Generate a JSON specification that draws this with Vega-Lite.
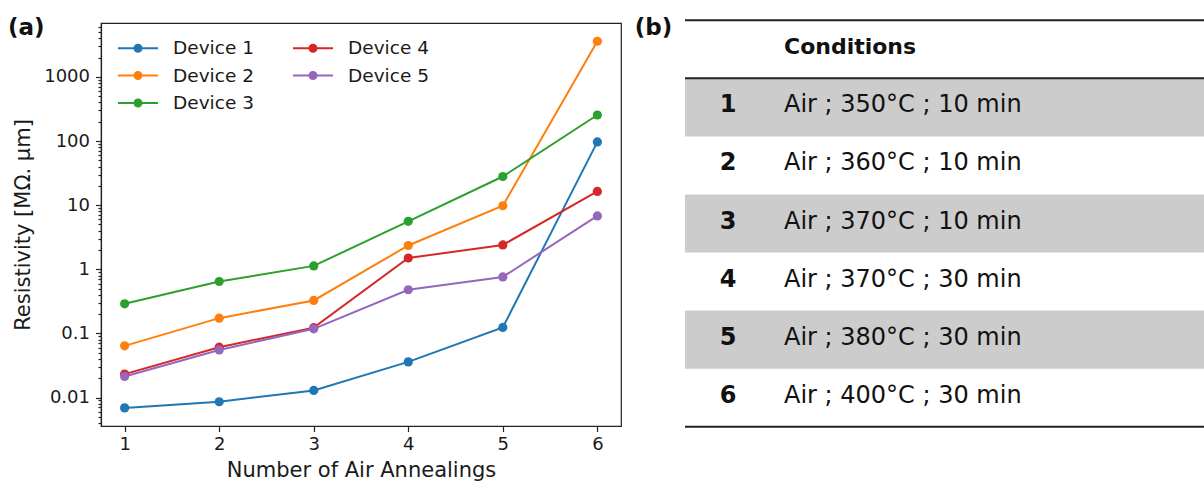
{
  "$schema": "https://vega.github.io/schema/vega-lite/v6.json",
  "background": "white",
  "padding": {"left": 7, "top": 16, "right": 0, "bottom": 0},
  "bounds": "flush",
  "spacing": 64,
  "config": {
    "font": "DejaVu Sans",
    "axis": {"labelFont": "DejaVu Sans", "titleFont": "DejaVu Sans", "labelColor": "#1a1a1a", "titleColor": "#1a1a1a", "domainColor": "#222", "tickColor": "#222", "domainWidth": 1.2, "tickWidth": 1.2, "titleFontWeight": "normal", "grid": false}
  },
  "hconcat": [
    {
      "width": 520,
      "height": 403,
      "view": {"stroke": "#222", "strokeWidth": 1.2},
      "data": {"values": [
        {"n": 1, "device": "Device 1", "r": 0.0069},
        {"n": 2, "device": "Device 1", "r": 0.0086},
        {"n": 3, "device": "Device 1", "r": 0.0129},
        {"n": 4, "device": "Device 1", "r": 0.036},
        {"n": 5, "device": "Device 1", "r": 0.124},
        {"n": 6, "device": "Device 1", "r": 97},
        {"n": 1, "device": "Device 2", "r": 0.064},
        {"n": 2, "device": "Device 2", "r": 0.173},
        {"n": 3, "device": "Device 2", "r": 0.327},
        {"n": 4, "device": "Device 2", "r": 2.35},
        {"n": 5, "device": "Device 2", "r": 9.8},
        {"n": 6, "device": "Device 2", "r": 3600},
        {"n": 1, "device": "Device 3", "r": 0.29},
        {"n": 2, "device": "Device 3", "r": 0.645},
        {"n": 3, "device": "Device 3", "r": 1.13},
        {"n": 4, "device": "Device 3", "r": 5.6},
        {"n": 5, "device": "Device 3", "r": 28},
        {"n": 6, "device": "Device 3", "r": 255},
        {"n": 1, "device": "Device 4", "r": 0.0232},
        {"n": 2, "device": "Device 4", "r": 0.061},
        {"n": 3, "device": "Device 4", "r": 0.123},
        {"n": 4, "device": "Device 4", "r": 1.5},
        {"n": 5, "device": "Device 4", "r": 2.4},
        {"n": 6, "device": "Device 4", "r": 16.4},
        {"n": 1, "device": "Device 5", "r": 0.0213},
        {"n": 2, "device": "Device 5", "r": 0.0553},
        {"n": 3, "device": "Device 5", "r": 0.118},
        {"n": 4, "device": "Device 5", "r": 0.48},
        {"n": 5, "device": "Device 5", "r": 0.76},
        {"n": 6, "device": "Device 5", "r": 6.8}
      ]},
      "layer": [
        {
          "mark": {"type": "line", "strokeWidth": 2, "point": {"filled": true, "size": 85, "opacity": 1}},
          "encoding": {
            "x": {"field": "n", "type": "quantitative",
              "scale": {"domain": [0.75, 6.25], "nice": false, "zero": false},
              "axis": {"values": [1, 2, 3, 4, 5, 6], "format": "d", "title": "Number of Air Annealings", "tickSize": 5.5, "labelPadding": 4, "titlePadding": 6, "labelFontSize": 18, "titleFontSize": 21}},
            "y": {"field": "r", "type": "quantitative",
              "scale": {"type": "log", "domain": [0.0036, 6935], "nice": false},
              "axis": {
                "values": [0.004, 0.005, 0.006, 0.007, 0.008, 0.009, 0.01, 0.02, 0.03, 0.04, 0.05, 0.06, 0.07, 0.08, 0.09, 0.1, 0.2, 0.3, 0.4, 0.5, 0.6, 0.7, 0.8, 0.9, 1, 2, 3, 4, 5, 6, 7, 8, 9, 10, 20, 30, 40, 50, 60, 70, 80, 90, 100, 200, 300, 400, 500, 600, 700, 800, 900, 1000, 2000, 3000, 4000, 5000, 6000],
                "format": "~g",
                "labelExpr": "abs(log(datum.value)/LN10 - round(log(datum.value)/LN10)) < 0.001 ? datum.label : ''",
                "tickSize": {"condition": {"test": "abs(log(datum.value)/LN10 - round(log(datum.value)/LN10)) < 0.001", "value": 5.5}, "value": 3},
                "labelOverlap": false,
                "labelFontSize": 18,
                "labelPadding": 6,
                "title": "Resistivity [MΩ. µm]",
                "titleFontSize": 21,
                "titlePadding": 10
              }},
            "color": {"field": "device", "type": "nominal",
              "scale": {"domain": ["Device 1", "Device 2", "Device 3", "Device 4", "Device 5"], "range": ["#1f77b4", "#ff7f0e", "#2ca02c", "#d62728", "#9467bd"]},
              "legend": {
                "orient": "none", "legendX": 27, "legendY": 15, "columns": 2, "columnPadding": 39, "rowPadding": 7.5,
                "title": null,
                "symbolType": "M-2,-0.1H2V0.1H-2Z M0.45,0A0.45,0.45,0,1,1,-0.45,0A0.45,0.45,0,1,1,0.45,0Z",
                "symbolSize": 400, "symbolStrokeWidth": 0,
                "labelFontSize": 18.5, "labelFont": "DejaVu Sans", "labelColor": "#1a1a1a", "labelOffset": 25,
                "encode": {"symbols": {"update": {"fill": {"scale": "color", "field": "value"}, "opacity": {"value": 1}}}}
              }}
          }
        },
        {
          "data": {"values": [{"label": "(a)"}]},
          "mark": {"type": "text", "fontWeight": "bold", "fontSize": 23, "align": "center", "baseline": "middle", "color": "#111", "clip": false},
          "encoding": {"text": {"field": "label"}, "x": {"datum": -0.04}, "y": {"datum": 5800}}
        }
      ]
    },
    {
      "width": 521,
      "height": 406,
      "view": {"stroke": null},
      "data": {"values": [
        {"n": 1, "cond": "Air ; 350°C ; 10 min"},
        {"n": 2, "cond": "Air ; 360°C ; 10 min"},
        {"n": 3, "cond": "Air ; 370°C ; 10 min"},
        {"n": 4, "cond": "Air ; 370°C ; 30 min"},
        {"n": 5, "cond": "Air ; 380°C ; 30 min"},
        {"n": 6, "cond": "Air ; 400°C ; 30 min"}
      ]},
      "layer": [
        {
          "transform": [{"filter": "datum.n % 2 == 1"}],
          "mark": {"type": "rule", "color": "#cccccc", "strokeWidth": 58.06},
          "encoding": {"y": {"field": "n", "type": "quantitative", "scale": {"domain": [-0.4535, 6.539], "reverse": true, "nice": false, "zero": false}, "axis": null}}
        },
        {
          "data": {"values": [{"k": "top"}]},
          "mark": {"type": "rule", "color": "#222", "strokeWidth": 2},
          "encoding": {"y": {"datum": -0.5}}
        },
        {
          "data": {"values": [{"k": "mid"}]},
          "mark": {"type": "rule", "color": "#222", "strokeWidth": 2},
          "encoding": {"y": {"datum": 0.5}}
        },
        {
          "data": {"values": [{"k": "bottom"}]},
          "mark": {"type": "rule", "color": "#222", "strokeWidth": 2},
          "encoding": {"y": {"datum": 6.5}}
        },
        {
          "mark": {"type": "text", "fontWeight": "bold", "fontSize": 24, "align": "center", "baseline": "middle", "color": "#111", "dy": -2},
          "encoding": {
            "text": {"field": "n", "type": "nominal"},
            "x": {"datum": 0.0825, "type": "quantitative", "scale": {"domain": [0, 1], "nice": false, "zero": false}, "axis": null},
            "y": {"field": "n", "type": "quantitative"}
          }
        },
        {
          "mark": {"type": "text", "fontSize": 24, "align": "left", "baseline": "middle", "color": "#111", "dy": -2},
          "encoding": {
            "text": {"field": "cond", "type": "nominal"},
            "x": {"datum": 0.19, "type": "quantitative"},
            "y": {"field": "n", "type": "quantitative"}
          }
        },
        {
          "data": {"values": [{"h": "Conditions"}]},
          "mark": {"type": "text", "fontSize": 22, "fontWeight": "bold", "align": "left", "baseline": "middle", "color": "#111", "dy": -2},
          "encoding": {"text": {"field": "h"}, "x": {"datum": 0.19}, "y": {"datum": 0}}
        },
        {
          "data": {"values": [{"label": "(b)"}]},
          "mark": {"type": "text", "fontSize": 23, "fontWeight": "bold", "align": "center", "baseline": "middle", "color": "#111", "clip": false},
          "encoding": {"text": {"field": "label"}, "x": {"datum": -0.0605}, "y": {"datum": -0.367}}
        }
      ]
    }
  ]
}
